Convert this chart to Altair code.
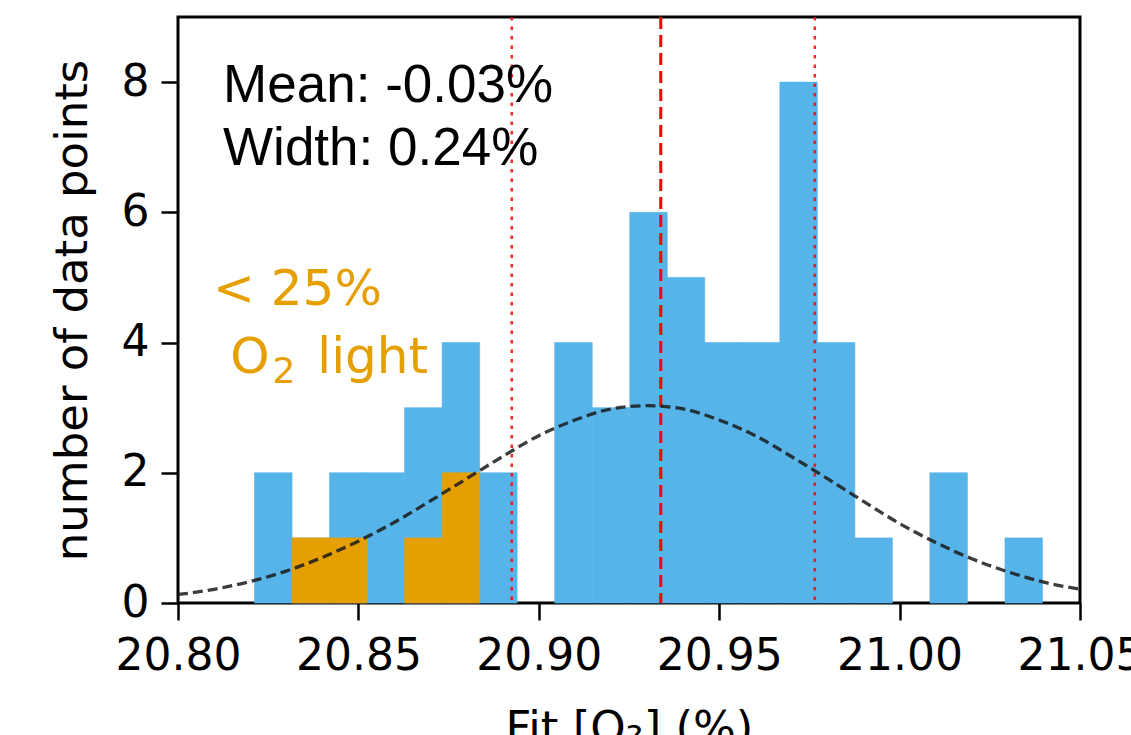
import altair as alt
import pandas as pd

# ---- data ----
bin_edges = [20.8212, 20.8316, 20.8420, 20.8524, 20.8628, 20.8732, 20.8836,
             20.8940, 20.9044, 20.9148, 20.9252, 20.9356, 20.9460, 20.9564,
             20.9668, 20.9772, 20.9876, 20.9980, 21.0084, 21.0188, 21.0292,
             21.0396]
total_counts = [2, 1, 2, 2, 3, 4, 2, 0, 4, 3, 6, 5, 4, 4, 8, 4, 1, 0, 2, 0, 1]
low_light_counts = [0, 1, 1, 0, 1, 2, 0, 0, 0, 0, 0, 0, 0, 0, 0, 0, 0, 0, 0, 0, 0]

curve_x = [20.80, 20.81, 20.82, 20.83, 20.84, 20.85, 20.86, 20.87, 20.88,
           20.89, 20.90, 20.91, 20.92, 20.93, 20.94, 20.95, 20.96, 20.97,
           20.98, 20.99, 21.00, 21.01, 21.02, 21.03, 21.04, 21.05]
curve_y = [0.13, 0.21, 0.33, 0.49, 0.70, 0.95, 1.24, 1.57, 1.91, 2.25, 2.57,
           2.81, 2.98, 3.03, 2.98, 2.81, 2.57, 2.25, 1.91, 1.56, 1.22, 0.93,
           0.68, 0.48, 0.32, 0.21]

mean_line = [20.9338]
width_lines = [20.8925, 20.9765]

x_ticks = [20.80, 20.85, 20.90, 20.95, 21.00, 21.05]
y_ticks = [0, 2, 4, 6, 8]

stats_text = ["Mean: -0.03%", "Width: 0.24%"]
stats_x = [20.8125, 20.8125]
stats_y = [7.70, 6.72]

light_text = ["< 25%", "O", "light"]
light_x = [20.8097, 20.8145, 20.8386]
light_y = [4.58, 3.53, 3.53]

sub_text = ["2"]
sub_x = [20.8262]
sub_y = [3.38]

# ---- tables ----
bars = pd.DataFrame({"lo": bin_edges[:-1], "hi": bin_edges[1:], "n": total_counts})
bars = bars[bars["n"] > 0]
low = pd.DataFrame({"lo": bin_edges[:-1], "hi": bin_edges[1:], "n": low_light_counts})
low = low[low["n"] > 0]
curve = pd.DataFrame({"lo": curve_x, "n": curve_y})
mean_df = pd.DataFrame({"lo": mean_line})
width_df = pd.DataFrame({"lo": width_lines})
stats_df = pd.DataFrame({"lo": stats_x, "n": stats_y, "t": stats_text})
light_df = pd.DataFrame({"lo": light_x, "n": light_y, "t": light_text})
sub_df = pd.DataFrame({"lo": sub_x, "n": sub_y, "t": sub_text})

xscale = alt.Scale(domain=[20.80, 21.05], nice=False, zero=False)
yscale = alt.Scale(domain=[0, 9.0], nice=False, zero=True)

FONT = "DejaVu Sans"

x_axis = alt.Axis(values=x_ticks, format=".2f", title="Fit [O\u2082] (%)",
                  labelFontSize=44, titleFontSize=45, labelFont=FONT, titleFont=FONT,
                  labelColor="black", titleColor="black", titleFontWeight="normal",
                  tickSize=17, tickWidth=2.5, tickColor="black", labelPadding=14,
                  titlePadding=28, labelFlush=False, labelOverlap=False, domain=False,
                  grid=False)
y_axis = alt.Axis(values=y_ticks, format="d", title="number of data points",
                  labelFontSize=44, titleFontSize=45, labelFont=FONT, titleFont=FONT,
                  labelColor="black", titleColor="black", titleFontWeight="normal",
                  tickSize=17, tickWidth=2.5, tickColor="black", labelPadding=12,
                  titlePadding=26, labelFlush=False, labelOverlap=False, domain=False,
                  grid=False)

X = alt.X("lo:Q", scale=xscale, axis=x_axis)
Y = alt.Y("n:Q", scale=yscale, axis=y_axis)

blue = alt.Chart(bars).mark_rect(color="#56B4E9", stroke="#56B4E9", strokeWidth=0.6).encode(
    x=X, x2="hi:Q", y=Y, y2=alt.datum(0),
)

orange = alt.Chart(low).mark_rect(color="#E69F00", stroke="#E69F00", strokeWidth=0.6).encode(
    x=X, x2="hi:Q", y=Y, y2=alt.datum(0),
)

mean_rule = alt.Chart(mean_df).mark_rule(color="red", strokeWidth=3,
                                         strokeDash=[12, 6]).encode(x=X)
width_rule = alt.Chart(width_df).mark_rule(color="red", strokeWidth=2.5, opacity=0.85,
                                           strokeDash=[3.5, 6]).encode(x=X)

gauss = alt.Chart(curve).mark_line(color="#1a1a1a", strokeWidth=3.3, opacity=0.85,
                                   strokeDash=[10, 5], interpolate="monotone",
                                   clip=True).encode(x=X, y=Y)

stats = alt.Chart(stats_df).mark_text(align="left", baseline="alphabetic",
                                      font="Liberation Sans", fontSize=53,
                                      color="black").encode(x=X, y=Y, text="t:N")

light = alt.Chart(light_df).mark_text(align="left", baseline="alphabetic",
                                      font=FONT, fontSize=50,
                                      color="#E69F00").encode(x=X, y=Y, text="t:N")

sub = alt.Chart(sub_df).mark_text(align="left", baseline="alphabetic",
                                  font=FONT, fontSize=36,
                                  color="#E69F00").encode(x=X, y=Y, text="t:N")

chart = alt.layer(blue, orange, width_rule, mean_rule, gauss, stats, light, sub).properties(
    width=902,
    height=586,
    autosize=alt.AutoSizeParams(type="none"),
    padding={"left": 178, "top": 17, "right": 51, "bottom": 132},
    background="white",
).configure_view(stroke="black", strokeWidth=3)

chart.save("out.html", embed_options={"renderer": "svg", "actions": False})
